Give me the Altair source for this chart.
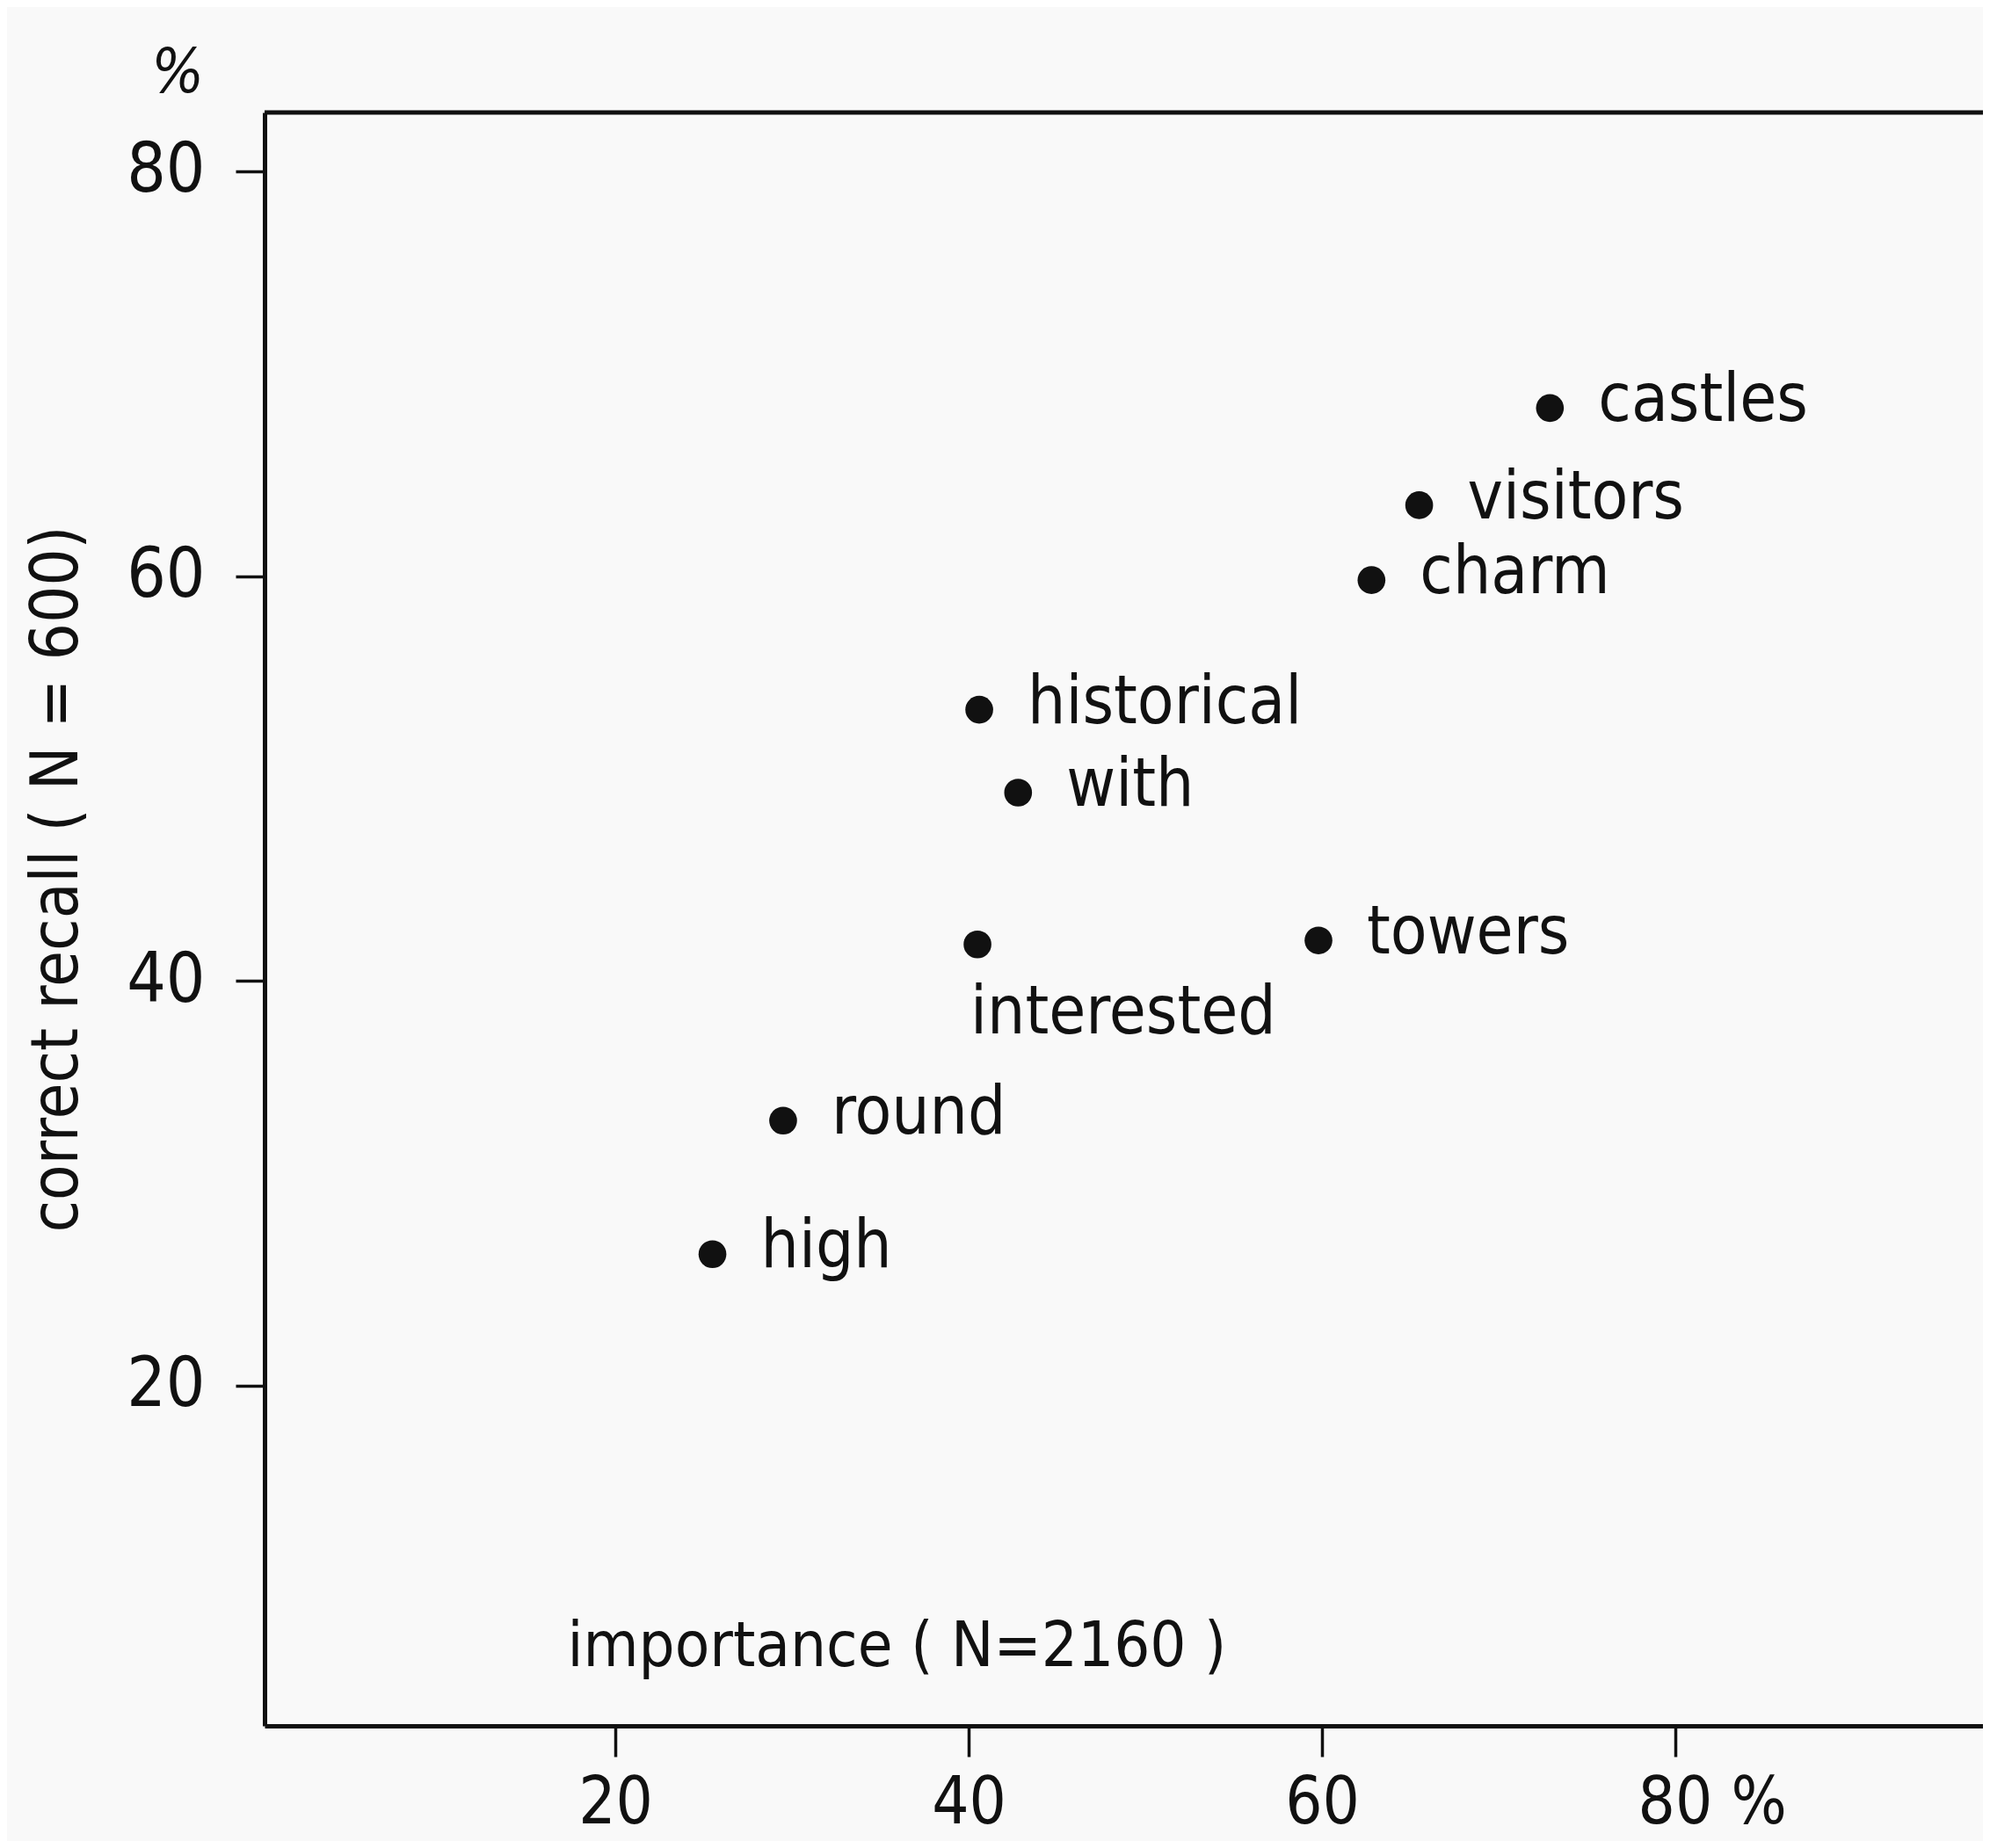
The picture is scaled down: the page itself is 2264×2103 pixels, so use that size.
import altair as alt
import pandas as pd

# ---- data ----
words = ["castles", "visitors", "charm", "historical", "with",
         "interested", "towers", "round", "high"]
importance = [72.9, 65.5, 62.8, 40.6, 42.8, 40.5, 59.8, 29.5, 25.5]
recall = [68.3, 63.5, 59.8, 53.4, 49.3, 41.8, 42.0, 33.1, 26.5]
label_side = ["right", "right", "right", "right", "right",
              "below", "right", "right", "right"]
x_ticks = [20, 40, 60, 80]
y_ticks = [20, 40, 60, 80]
unit_mark = ["%"]

FONT = "DejaVu Sans Condensed, DejaVu Sans"
W, H = 1955, 1836

df = pd.DataFrame({"word": words, "importance": importance,
                   "recall": recall, "side": label_side})

x_enc = alt.X(
    "importance:Q",
    scale=alt.Scale(domain=[0.15, 97.41], nice=False, zero=False),
    axis=alt.Axis(
        values=x_ticks, grid=False, tickSize=35, tickWidth=3.5,
        labelPadding=17, labelFont=FONT, labelFontSize=74, labelLimit=0,
        labelExpr="datum.value == 80 ? '80 %' : datum.label",
        labelAlign={"condition": {"test": "datum.value == 80", "value": "left"}, "value": "center"},
        labelOffset={"condition": {"test": "datum.value == 80", "value": -43}, "value": 0},
        title="importance ( N=2160 )", titleX=344, titleY=-69,
        titleAlign="left", titleAnchor="start", titleBaseline="alphabetic",
        titleFont=FONT, titleFontSize=72, titleFontWeight="normal",
    ),
)
y_enc = alt.Y(
    "recall:Q",
    scale=alt.Scale(domain=[3.2, 82.9], nice=False, zero=False),
    axis=alt.Axis(
        values=y_ticks, grid=False, tickSize=33, tickWidth=3.5,
        labelPadding=35, labelFont=FONT, labelFontSize=78, labelLimit=0,
        title="correct recall ( N = 600)", titleAngle=270,
        titleX=-236, titleY=872, titleAlign="center", titleBaseline="middle",
        titleFont=FONT, titleFontSize=74, titleFontWeight="normal",
    ),
)

base = alt.Chart(df).encode(x=x_enc, y=y_enc)

points = base.mark_point(filled=True, size=1000, color="#111111", opacity=1)

right_labels = base.transform_filter("datum.side == 'right'").mark_text(
    align="left", baseline="alphabetic", dx=55, dy=15,
    font=FONT, fontSize=76, color="#111111"
).encode(text="word:N")

below_labels = base.transform_filter("datum.side == 'below'").mark_text(
    align="left", baseline="alphabetic", dx=-8, dy=101,
    font=FONT, fontSize=76, color="#111111"
).encode(text="word:N")

top_edge = alt.Chart(pd.DataFrame({"edge": ["top"]})).mark_rule(
    color="#111111", strokeWidth=5
).encode(x=alt.value(0), x2=alt.value(W), y=alt.value(0))

unit = alt.Chart(pd.DataFrame({"unit": unit_mark})).mark_text(
    align="right", baseline="alphabetic", font=FONT, fontSize=70,
    fontStyle="italic", color="#111111"
).encode(text="unit:N", x=alt.value(-69), y=alt.value(-23))

chart = alt.layer(top_edge, points, right_labels, below_labels, unit).properties(
    width=W, height=H,
    autosize=alt.AutoSizeParams(type="none"),
    padding={"left": 293, "top": 120, "right": 0, "bottom": 131},
    background="#f9f9f9",
).configure_view(stroke=None).configure_axis(
    domainColor="#111111", domainWidth=5, tickColor="#111111",
    labelColor="#111111", titleColor="#111111",
)

chart.save("out.html", embed_options={"renderer": "svg", "actions": False})
